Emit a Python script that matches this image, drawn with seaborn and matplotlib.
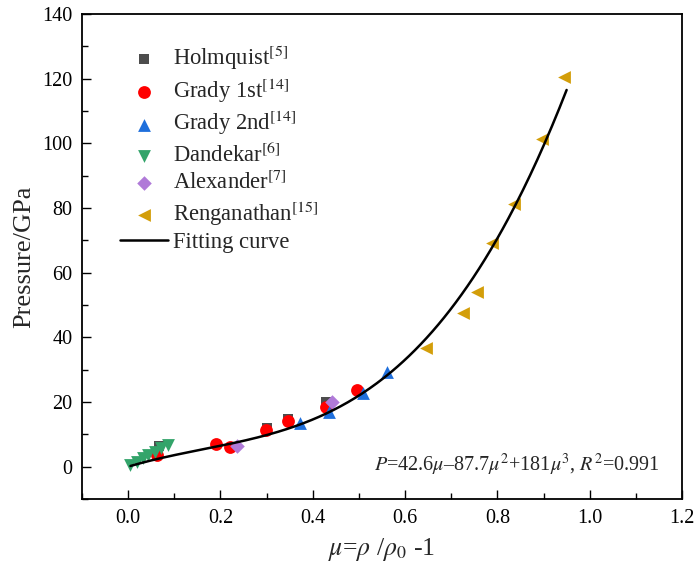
import numpy as np
import pandas as pd
import matplotlib
matplotlib.use("Agg")
import matplotlib.pyplot as plt
import seaborn as sns
from matplotlib.ticker import MultipleLocator

sns.set_theme(style="ticks")
plt.rcParams['font.family'] = ['Liberation Serif', 'DejaVu Serif']
plt.rcParams['mathtext.fontset'] = 'stix'

# ---- data ----
holmquist_x = [0.067, 0.301, 0.347, 0.428]
holmquist_y = [6.4, 11.9, 14.7, 20.1]

grady1_x = [0.063, 0.190, 0.220, 0.298, 0.347, 0.428, 0.495]
grady1_y = [3.6, 6.9, 6.2, 11.4, 14.1, 18.6, 23.7]

grady2_x = [0.372, 0.435, 0.509, 0.560]
grady2_y = [13.6, 17.0, 22.7, 29.4]

dandekar_x = [0.004, 0.019, 0.033, 0.044, 0.058, 0.072, 0.087]
dandekar_y = [0.5, 1.5, 2.6, 3.6, 4.6, 5.7, 6.7]

alexander_x = [0.235, 0.442]
alexander_y = [6.4, 20.1]

renganathan_x = [0.646, 0.726, 0.756, 0.788, 0.836, 0.897, 0.944]
renganathan_y = [36.7, 47.5, 54.1, 69.1, 81.2, 101.4, 120.5]

fit_coef = [42.6, -87.7, 181.0]   # P = a*mu + b*mu^2 + c*mu^3
fit_range = [0.005, 0.95]

series = [
    ("Holmquist$^{[5]}$", holmquist_x, holmquist_y, "s", "#4d4d4d"),
    ("Grady 1st$^{[14]}$", grady1_x, grady1_y, "o", "#ff0000"),
    ("Grady 2nd$^{[14]}$", grady2_x, grady2_y, "^", "#1f6fdc"),
    ("Dandekar$^{[6]}$", dandekar_x, dandekar_y, "v", "#33a46a"),
    ("Alexander$^{[7]}$", alexander_x, alexander_y, "D", "#b07ad8"),
    ("Renganathan$^{[15]}$", renganathan_x, renganathan_y, "<", "#d39e0a"),
]

fig = plt.figure(figsize=(6.95, 5.74), dpi=100)
ax = fig.add_axes([82/695, 75/574, 600/695, 485/574])

sizes = {"s": 60, "o": 85, "^": 85, "v": 85, "D": 55, "<": 85}
for label, xs, ys, m, c in series:
    df = pd.DataFrame({"x": xs, "y": ys})
    sns.scatterplot(data=df, x="x", y="y", marker=m, color=c, s=sizes[m],
                    linewidth=0, ax=ax, label=label, zorder=3)

mu = np.linspace(fit_range[0], fit_range[1], 300)
P = fit_coef[0]*mu + fit_coef[1]*mu**2 + fit_coef[2]*mu**3
sns.lineplot(x=mu, y=P, color="black", linewidth=1.8, ax=ax,
             label="Fitting curve", zorder=4, sort=False)

ax.set_xlim(-0.1, 1.2)
ax.set_ylim(-10, 140)
ax.xaxis.set_minor_locator(MultipleLocator(0.1))
ax.yaxis.set_minor_locator(MultipleLocator(10))
ax.set_xticks(np.arange(0, 1.21, 0.2))
ax.set_xticklabels([f"{v:.1f}" for v in np.arange(0, 1.21, 0.2)])
ax.set_yticks(np.arange(0, 141, 20))
ax.tick_params(which="both", direction="in", top=False, right=False,
               labelsize=14.5, width=1.0, color="black", labelcolor="black")
ax.tick_params(which="major", length=6.5, pad=7)
ax.tick_params(which="minor", length=4)
for sp in ax.spines.values():
    sp.set_linewidth(1.3)
    sp.set_color("black")
    sp.set_visible(True)

ax.set_xlabel(r"$\mu$=$\rho$ /$\rho_0$ -1", fontsize=18.5, labelpad=6)
ax.set_ylabel("Pressure/GPa", fontsize=19, labelpad=5)

ax.text(0.963, 0.07, r"$P$=42.6$\mu$–87.7$\mu^2$+181$\mu^3$, $R^2$=0.991",
        transform=ax.transAxes, ha="right", va="center", fontsize=14.5)

leg = ax.legend(loc="upper left", bbox_to_anchor=(0.063, 0.94), frameon=False,
                fontsize=16.3, handlelength=2.15, handletextpad=0.2,
                labelspacing=0.2, borderpad=0, borderaxespad=0)

fig.savefig("out.png", dpi=100)
